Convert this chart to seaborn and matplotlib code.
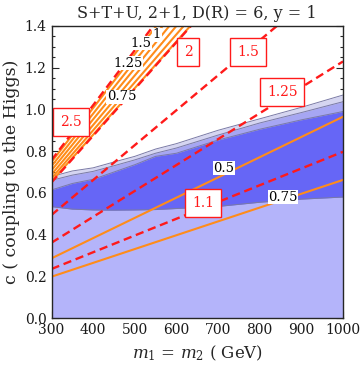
import numpy as np
import pandas as pd
import matplotlib
matplotlib.use("Agg")
import matplotlib.pyplot as plt
from matplotlib.ticker import MultipleLocator
import seaborn as sns

# ---------------- data ----------------
mass = [300, 350, 400, 450, 500, 550, 600, 700, 800, 900, 1000]
outer_top = [0.678, 0.705, 0.720, 0.748, 0.775, 0.810, 0.836, 0.900, 0.955, 1.010, 1.069]
mid_top = [0.660, 0.685, 0.703, 0.730, 0.758, 0.790, 0.815, 0.877, 0.935, 0.985, 1.037]
dark_top = [0.614, 0.645, 0.665, 0.700, 0.735, 0.775, 0.790, 0.853, 0.905, 0.950, 0.990]
dark_bottom = [0.534, 0.522, 0.518, 0.517, 0.518, 0.520, 0.525, 0.535, 0.555, 0.570, 0.580]

line_mass = [300, 1000]
red_labels = ["2.5", "2", "1.5", "1.25", "1.1"]
red_c300 = [0.757, 0.650, 0.494, 0.361, 0.235]
red_c1000 = [2.600, 2.218, 1.666, 1.230, 0.797]
red_label_m = [347, 628, 772, 854, 664]
red_label_c = [0.940, 1.275, 1.275, 1.083, 0.551]

orange_c300 = [0.286, 0.198, 0.748, 0.728, 0.708, 0.688, 0.670, 0.655]
orange_c1000 = [0.965, 0.662, 2.560, 2.490, 2.420, 2.350, 2.280, 2.220]
orange_labels = ["0.5", "0.75", "1.5", "1", "1.25", "0.75"]
orange_label_m = [714, 856, 515, 553, 484, 469]
orange_label_c = [0.719, 0.580, 1.318, 1.357, 1.222, 1.060]

title = "S+T+U, 2+1, D(R) = 6, y = 1"
xlabel = r"$m_1$ = $m_2$ ( GeV)"
ylabel = "c ( coupling to the Higgs)"

# ---------------- style ----------------
sns.set_style("ticks")
plt.rcParams["font.family"] = ["DejaVu Serif"]
plt.rcParams["mathtext.fontset"] = "dejavuserif"

fig = plt.figure(figsize=(3.6, 3.65), dpi=100)
ax = fig.add_axes([51.5 / 360, 1 - 318 / 365, (343 - 51.5) / 360, (318 - 26) / 365])

c_bottom = "#b4b4fa"
c_dark = "#6666f6"
c_mid = "#a6a6f3"
c_outer = "#d5d5f1"
edge = "#7a7aa6"

m = np.array(mass)
ax.fill_between(m, 0, outer_top, color=c_outer, lw=0, zorder=1)
ax.fill_between(m, 0, mid_top, color=c_mid, lw=0, zorder=1.1)
ax.fill_between(m, 0, dark_top, color=c_dark, lw=0, zorder=1.2)
ax.fill_between(m, 0, dark_bottom, color=c_bottom, lw=0, zorder=1.3)
for arr in (outer_top, mid_top, dark_top, dark_bottom):
    ax.plot(m, arr, color=edge, lw=0.7, zorder=1.5)

# orange solid contours
for c0, c1 in zip(orange_c300, orange_c1000):
    sns.lineplot(x=line_mass, y=[c0, c1], color="#ff8c1a", lw=1.5, ax=ax, zorder=2)

# red dashed contours
for c0, c1 in zip(red_c300, red_c1000):
    sns.lineplot(x=line_mass, y=[c0, c1], color="#ff1a1a", lw=1.7, ax=ax, zorder=3,
                 dashes=False, linestyle=(0, (3.5, 2.0)))

# labels
for t, mx, cy in zip(orange_labels, orange_label_m, orange_label_c):
    ax.text(mx, cy, t, fontsize=9.5, color="black", ha="center", va="center", zorder=4,
            bbox=dict(boxstyle="square,pad=0.05", fc="white", ec="none"))
for t, mx, cy in zip(red_labels, red_label_m, red_label_c):
    ax.text(mx, cy, t, fontsize=10, color="#ff1a1a", ha="center", va="center", zorder=5,
            bbox=dict(boxstyle="square,pad=0.5", fc="white", ec="#ff1a1a", lw=1.0))

ax.set_xlim(300, 1000)
ax.set_ylim(0, 1.4)
ax.xaxis.set_major_locator(MultipleLocator(100))
ax.xaxis.set_minor_locator(MultipleLocator(20))
ax.yaxis.set_major_locator(MultipleLocator(0.2))
ax.yaxis.set_minor_locator(MultipleLocator(0.05))
ax.yaxis.set_major_formatter(matplotlib.ticker.FormatStrFormatter("%.1f"))
ax.tick_params(which="both", direction="in", right=True, top=False, labelsize=10, width=0.8,
               labelcolor="#1a1a1a")
ax.tick_params(which="major", length=5)
ax.tick_params(which="minor", length=2.5)
for s in ax.spines.values():
    s.set_linewidth(1.0)
    s.set_zorder(6)

ax.set_title(title, fontsize=11.5, pad=6)
ax.set_xlabel(xlabel, fontsize=12, labelpad=5)
ax.set_ylabel(ylabel, fontsize=12.5, labelpad=3)

fig.savefig("out.png", dpi=100)
